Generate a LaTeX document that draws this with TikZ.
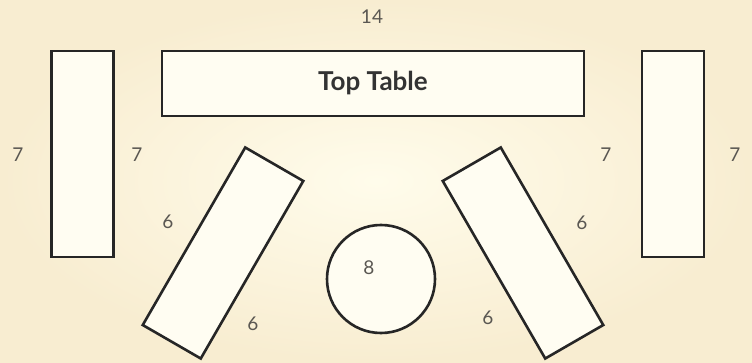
\documentclass[tikz,border=0pt]{standalone}
\usepackage{fontspec}
\setmainfont{Lato}
\usepackage{tikz}
\usetikzlibrary{shapes.geometric}
\definecolor{paperout}{HTML}{F8EDD1}
\definecolor{paperin}{HTML}{FFFCEB}
\definecolor{tablefill}{HTML}{FFFDF2}
\definecolor{seatgray}{HTML}{5A5752}

\begin{document}
\begin{tikzpicture}[x=1pt, y=1pt,
    table/.style={draw=black!85, line width=2.6pt, rectangle, fill=tablefill, inner sep=0pt},
    roundtable/.style={draw=black!85, line width=2.6pt, circle, fill=tablefill, inner sep=0pt, minimum size=108pt},
    seats/.style={font=\fontsize{19}{20}\selectfont, text=seatgray}]

    % Background
    \shade[inner color=paperin, outer color=paperout] (0,0) rectangle (752,362);
    \useasboundingbox (0,0) rectangle (752,362);

    % Define the tables
    \node[table, minimum width=422pt, minimum height=65pt, font=\fontsize{26}{27}\selectfont\bfseries, text=black!80] (top) at (373,278.5) {Top Table};
    \node[table, minimum width=62pt, minimum height=206pt] (left) at (82.5,208) {};
    \node[table, minimum width=62pt, minimum height=206pt] (right) at (673,208) {};
    \node[table, minimum width=205pt, minimum height=67pt, rotate=60] (tiltl) at (223,109) {};
    \node[table, minimum width=205pt, minimum height=67pt, rotate=-60] (tiltr) at (523,109) {};
    \node[roundtable] (round) at (381,83) {};

    % Seat numbers
    \node[seats] (ntop) at (372,345) {14};
    \node[seats] (nleftout) at (18,207) {7};
    \node[seats] (nleftin) at (137,207) {7};
    \node[seats] (nrightin) at (606,207) {7};
    \node[seats] (nrightout) at (735,207) {7};
    \node[seats] (ntiltlup) at (168,140) {6};
    \node[seats] (ntiltllow) at (253,38) {6};
    \node[seats] (ntiltrup) at (582,139) {6};
    \node[seats] (ntiltrlow) at (488,44) {6};
    \node[seats] (nround) at (369,94) {8};
\end{tikzpicture}
\end{document}
